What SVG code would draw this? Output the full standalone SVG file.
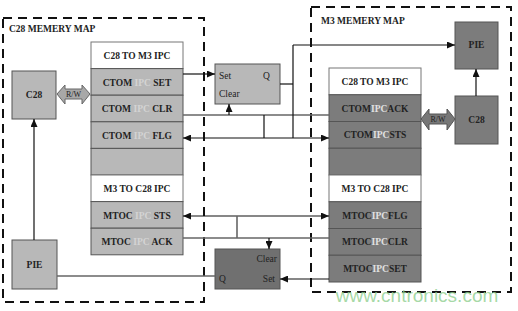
<svg xmlns="http://www.w3.org/2000/svg" width="518" height="311" viewBox="0 0 518 311">
<style>
.t{font-family:"Liberation Serif","Times New Roman",serif;font-weight:bold;font-size:9.5px;fill:#222;text-anchor:middle}
.n{font-family:"Liberation Serif","Times New Roman",serif;font-size:9.5px;fill:#222}
.lg{fill:#b8b8b8;stroke:#555;stroke-width:1}
.dg{fill:#7c7c7c;stroke:#555;stroke-width:1}
.wh{fill:#fff;stroke:#777;stroke-width:1}
.ipcl{fill:#d4d4d4}
.ipcd{fill:#e2e2e2}
.dash{fill:none;stroke:#111;stroke-width:2;stroke-dasharray:9,6}
.c{fill:none;stroke:#111;stroke-width:1.2}
.g{fill:none;stroke:#666;stroke-width:1.6}
.a{marker-end:url(#ah)}
.b{marker-start:url(#ah);marker-end:url(#ah)}
</style>
<defs>
<marker id="ah" markerUnits="userSpaceOnUse" markerWidth="8" markerHeight="7" refX="8" refY="3.5" orient="auto-start-reverse">
<path d="M0,0 L8,3.5 L0,7 z" fill="#111"/>
</marker>
</defs>
<rect width="518" height="311" fill="#fff"/>
<g id="c28-map">
<rect class="dash" x="3" y="18" width="201" height="284"/>
<text class="t" x="9" y="32" style="text-anchor:start">C28 MEMERY MAP</text>
</g>
<g id="m3-map">
<rect class="dash" x="311" y="7" width="200" height="285"/>
<text class="t" x="321" y="24" style="text-anchor:start">M3 MEMERY MAP</text>
</g>
<g id="c28-left">
<rect class="lg" x="12" y="71" width="44" height="48"/>
<text class="t" x="34" y="98">C28</text>
</g>
<g id="pie-left">
<rect class="lg" x="12" y="240" width="45" height="49"/>
<text class="t" x="34.5" y="268">PIE</text>
</g>
<g id="pie-right">
<rect class="dg" x="455" y="22" width="43" height="47"/>
<text class="t" x="476.5" y="48">PIE</text>
</g>
<g id="c28-right">
<rect class="dg" x="455" y="96" width="43" height="48"/>
<text class="t" x="476.5" y="123">C28</text>
</g>
<g id="rw-left">
<polygon points="57,94 65,85 65,89 82,89 82,85 90,94 82,104 82,99 65,99 65,104" fill="#a8a8a8" stroke="#666" stroke-width="1"/>
<text class="n" x="73.5" y="97" style="font-size:8px;text-anchor:middle">R/W</text>
</g>
<g id="rw-right">
<polygon points="421,119 429,109 429,114 447,114 447,109 455,119 447,130 447,124 429,124 429,130" fill="#777" stroke="#555" stroke-width="1"/>
<text class="n" x="438" y="122" style="font-size:8px;text-anchor:middle">R/W</text>
</g>
<g id="c28-stack">
<rect class="wh" x="91" y="42" width="92" height="26.6"/>
<text class="t" x="137" y="59">C28 TO M3 IPC</text>
<rect class="lg" x="91" y="68.6" width="92" height="26.6"/>
<text class="t" x="137" y="85.5">CTOM <tspan class="ipcl">IPC</tspan> SET</text>
<rect class="lg" x="91" y="95.2" width="92" height="26.6"/>
<text class="t" x="137" y="112">CTOM <tspan class="ipcl">IPC</tspan> CLR</text>
<rect class="lg" x="91" y="121.8" width="92" height="26.6"/>
<text class="t" x="137" y="138.5">CTOM <tspan class="ipcl">IPC</tspan> FLG</text>
<rect class="lg" x="91" y="148.4" width="92" height="26.6"/>
<rect class="wh" x="91" y="175" width="92" height="26.6"/>
<text class="t" x="137" y="192">M3 TO C28 IPC</text>
<rect class="lg" x="91" y="201.6" width="92" height="26.6"/>
<text class="t" x="137" y="218.5">MTOC <tspan class="ipcl">IPC</tspan> STS</text>
<rect class="lg" x="91" y="228.2" width="92" height="26.6"/>
<text class="t" x="137" y="245">MTOC <tspan class="ipcl">IPC</tspan> ACK</text>
</g>
<g id="m3-stack">
<rect class="wh" x="329" y="68" width="92" height="26.75"/>
<text class="t" x="375" y="85">C28 TO M3 IPC</text>
<rect class="dg" x="329" y="94.75" width="92" height="26.75"/>
<text class="t" x="375" y="111.5">CTOM<tspan class="ipcd">IPC</tspan>ACK</text>
<rect class="dg" x="329" y="121.5" width="92" height="26.75"/>
<text class="t" x="375" y="138.3">CTOM<tspan class="ipcd">IPC</tspan>STS</text>
<rect class="dg" x="329" y="148.25" width="92" height="26.75"/>
<rect class="wh" x="329" y="175" width="92" height="26.75"/>
<text class="t" x="375" y="192">M3 TO C28 IPC</text>
<rect class="dg" x="329" y="201.75" width="92" height="26.75"/>
<text class="t" x="375" y="218.5">MTOC<tspan class="ipcd">IPC</tspan>FLG</text>
<rect class="dg" x="329" y="228.5" width="92" height="26.75"/>
<text class="t" x="375" y="245.3">MTOC<tspan class="ipcd">IPC</tspan>CLR</text>
<rect class="dg" x="329" y="255.25" width="92" height="26.75"/>
<text class="t" x="375" y="272">MTOC<tspan class="ipcd">IPC</tspan>SET</text>
</g>
<g id="ff-upper">
<rect class="lg" x="215" y="64" width="65" height="40"/>
<text class="n" x="219" y="79">Set</text>
<text class="n" x="263" y="79">Q</text>
<text class="n" x="219" y="97">Clear</text>
</g>
<g id="ff-lower">
<rect x="215" y="249" width="65" height="40" fill="#707070" stroke="#555" stroke-width="1"/>
<text class="n" x="277" y="262" style="text-anchor:end">Clear</text>
<text class="n" x="219" y="282">Q</text>
<text class="n" x="275" y="282" style="text-anchor:end">Set</text>
</g>
<g id="connectors">
<line class="c a" x1="183" y1="74" x2="215" y2="74"/>
<line class="g" x1="183" y1="115" x2="329" y2="115"/>
<line class="c a" x1="229" y1="115" x2="229" y2="104"/>
<line class="c b" x1="183" y1="138" x2="329" y2="138"/>
<line class="c" x1="264" y1="115" x2="264" y2="138"/>
<polyline class="c" points="280,84 293,84"/>
<line class="c" x1="293" y1="45" x2="293" y2="138"/>
<line class="c a" x1="293" y1="45" x2="455" y2="45"/>
<line class="c a" x1="476" y1="96" x2="476" y2="69"/>
<line class="c a" x1="34" y1="240" x2="34" y2="119"/>
<line class="c b" x1="183" y1="216" x2="329" y2="216"/>
<line class="g" x1="237" y1="216" x2="237" y2="238"/>
<line class="g" x1="183" y1="238" x2="329" y2="238"/>
<line class="c a" x1="269" y1="238" x2="269" y2="249"/>
<line class="c a" x1="329" y1="279" x2="280" y2="279"/>
<line class="g" x1="215" y1="276" x2="57" y2="276"/>
</g>
<text x="417" y="302" style="font-family:'Liberation Sans',Arial,sans-serif;font-size:19px;fill:#8fcf8f;fill-opacity:0.8;text-anchor:middle">www.cntronics.com</text>
</svg>
